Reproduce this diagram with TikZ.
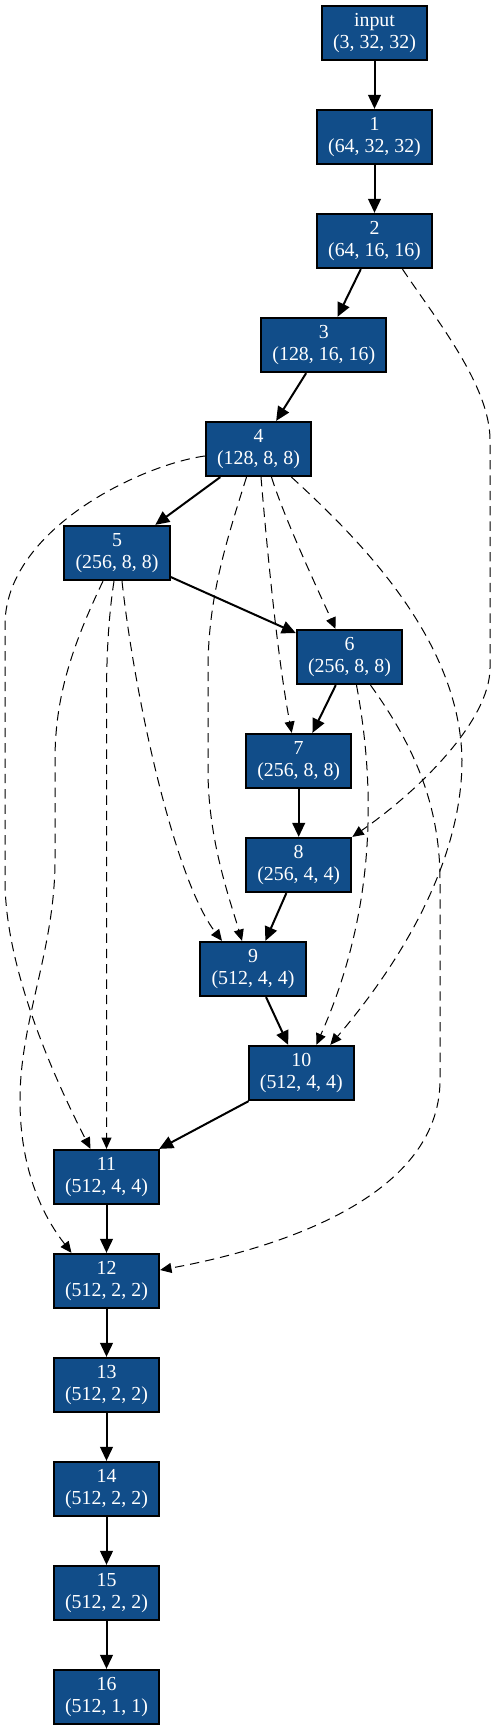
\documentclass[tikz,border=0pt]{standalone}
\usepackage{fontspec}
\setmainfont{Liberation Serif}
\usepackage{tikz}
\usetikzlibrary{arrows.meta,calc}
\definecolor{layerblue}{RGB}{17,77,137}

\begin{document}
\begin{tikzpicture}[
  x=0.75pt, y=-0.75pt,
  layer/.style={draw=black, line width=1.5pt, fill=layerblue, text=white, align=center,
    font=\fontsize{14.9pt}{16.3pt}\selectfont, minimum width=79pt, minimum height=40.7pt,
    inner xsep=8.25pt, inner ysep=0pt},
  main/.style={line width=1.5pt, -{Triangle[length=10.5pt,width=9.5pt]}},
  skip/.style={line width=0.75pt, dash pattern=on 7pt off 4.5pt, -{Triangle[length=8.5pt,width=7.5pt]}}
]
  \useasboundingbox (0,0) rectangle (496,1731);

  % Layers
  \node[layer] (in) at (374.5, 33) {input\\(3, 32, 32)};
  \node[layer] (n1) at (374.5, 137) {1\\(64, 32, 32)};
  \node[layer] (n2) at (374.5, 241) {2\\(64, 16, 16)};
  \node[layer] (n3) at (323.8, 345) {3\\(128, 16, 16)};
  \node[layer] (n4) at (258.5, 449) {4\\(128, 8, 8)};
  \node[layer] (n5) at (117, 553) {5\\(256, 8, 8)};
  \node[layer] (n6) at (349.5, 657) {6\\(256, 8, 8)};
  \node[layer] (n7) at (298.7, 761) {7\\(256, 8, 8)};
  \node[layer] (n8) at (298.7, 865) {8\\(256, 4, 4)};
  \node[layer] (n9) at (253, 969) {9\\(512, 4, 4)};
  \node[layer] (n10) at (301.3, 1073) {10\\(512, 4, 4)};
  \node[layer] (n11) at (106.5, 1177) {11\\(512, 4, 4)};
  \node[layer] (n12) at (106.5, 1281) {12\\(512, 2, 2)};
  \node[layer] (n13) at (106.5, 1385) {13\\(512, 2, 2)};
  \node[layer] (n14) at (106.5, 1489) {14\\(512, 2, 2)};
  \node[layer] (n15) at (106.5, 1593) {15\\(512, 2, 2)};
  \node[layer] (n16) at (106.5, 1697) {16\\(512, 1, 1)};

  % Main path
  \draw[main] (in) -- (n1);
  \draw[main] (n1) -- (n2);
  \draw[main] (n2) -- (n3);
  \draw[main] (n3) -- (n4);
  \draw[main] (n4) -- (n5);
  \draw[main] (n5) -- (n6);
  \draw[main] (n6) -- (n7);
  \draw[main] (n7) -- (n8);
  \draw[main] (n8) -- (n9);
  \draw[main] (n9) -- (n10);
  \draw[main] (n10) -- (n11);
  \draw[main] (n11) -- (n12);
  \draw[main] (n12) -- (n13);
  \draw[main] (n13) -- (n14);
  \draw[main] (n14) -- (n15);
  \draw[main] (n15) -- (n16);

  % Skip connections
  \draw[skip] ($(n2.south)+(28,0)$) .. controls (435,318) and (490,385) .. (490,440)
    -- (490,668) .. controls (490,720) and (420,790) .. (n8.north east);
  \draw[skip] ($(n4.west)+(0,7)$) .. controls (140,465) and (5,530) .. (5,625)
    -- (5,880) .. controls (5,960) and (45,1060) .. ($(n11.north)+(-16,0)$);
  \draw[skip] ($(n4.south)+(-12,0)$) .. controls (225,545) and (208,600) .. (208,670)
    -- (208,770) .. controls (208,840) and (230,900) .. ($(n9.north)+(-11,0)$);
  \draw[skip] ($(n4.south)+(2.5,0)$) .. controls (268,560) and (278,660) .. ($(n7.north)+(-7,0)$);
  \draw[skip] ($(n4.south)+(13,0)$) .. controls (285,520) and (318,590) .. ($(n6.north)+(-14,0)$);
  \draw[skip] ($(n4.south)+(33,0)$) .. controls (360,540) and (460,640) .. (462,760)
    .. controls (462,870) and (390,975) .. ($(n10.north)+(29,0)$);
  \draw[skip] ($(n5.south)+(-14,0)$) .. controls (70,650) and (55,700) .. (55,760)
    -- (55,860) .. controls (55,950) and (20,1020) .. (20,1100)
    .. controls (20,1180) and (50,1225) .. ($(n12.north)+(-35,0)$);
  \draw[skip] ($(n5.south)+(-3,0)$) .. controls (108,620) and (106.5,660) .. (106.5,700)
    -- (n11.north);
  \draw[skip] ($(n5.south)+(5,0)$) .. controls (135,700) and (175,880) .. ($(n9.north)+(-31,0)$);
  \draw[skip] ($(n6.south)+(7,0)$) .. controls (378,800) and (372,920) .. ($(n10.north)+(15,0)$);
  \draw[skip] ($(n6.south)+(21,0)$) .. controls (410,740) and (440,800) .. (440,880)
    -- (440,1080) .. controls (440,1200) and (270,1250) .. ($(n12.east)+(0,-11)$);
\end{tikzpicture}
\end{document}
